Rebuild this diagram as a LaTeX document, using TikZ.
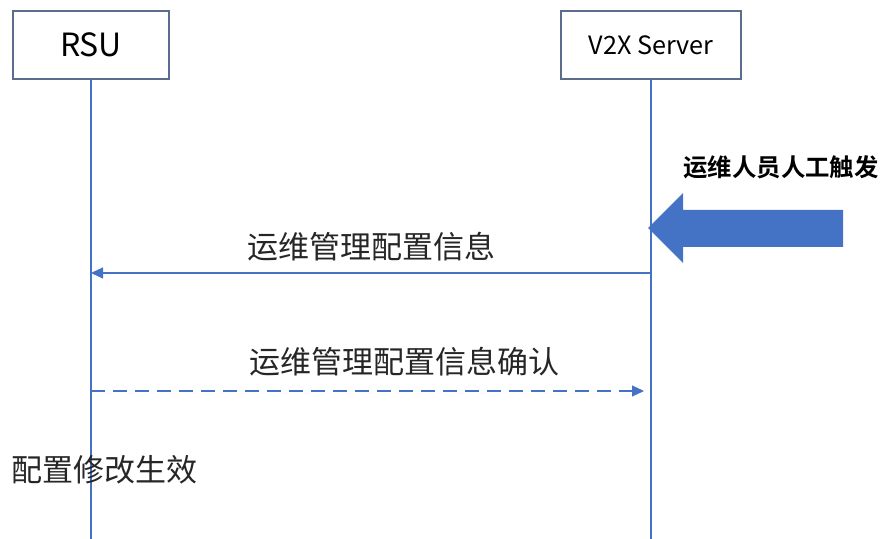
\documentclass[tikz,border=0pt]{standalone}
\usepackage{fontspec}
\setmainfont{Noto Sans CJK SC}[BoldFont={Noto Sans CJK SC Bold}]
\usetikzlibrary{arrows.meta}
\definecolor{msgblue}{RGB}{68,114,196}
\definecolor{boxgray}{RGB}{92,108,140}

\begin{document}
\begin{tikzpicture}[x=0.5pt, y=-0.5pt]
    \tikzstyle{actor} = [draw=boxgray, line width=0.65pt, fill=white, minimum width=78pt, minimum height=34pt, inner sep=0pt]
    \tikzstyle{life} = [draw=msgblue, line width=0.55pt]
    \tikzstyle{msg} = [draw=msgblue, line width=0.55pt, -{Triangle[length=6pt, width=5.5pt]}]
    \tikzstyle{lbl} = [font=\fontsize{15.5pt}{16pt}\selectfont, text=black!85, inner sep=0pt]
    \useasboundingbox (0,0) rectangle (881,539);

    % the two actors and their lifelines
    \node[actor] (rsu) at (91,45) {\fontsize{16pt}{17pt}\selectfont RSU};
    \node[actor, minimum width=90pt] (srv) at (651,45) {\fontsize{12.6pt}{13pt}\selectfont V2X Server};
    \coordinate (rsuend) at (91,539);
    \coordinate (srvend) at (651,539);
    \draw[life] (rsu) -- (rsuend);
    \draw[life] (srv) -- (srvend);

    % points where the messages meet the lifelines
    \coordinate (cfgsrv) at (651,273);
    \coordinate (cfgrsu) at (91,273);
    \coordinate (ackrsu) at (91,391);
    \coordinate (acksrv) at (644,391);

    \draw[msg] (cfgsrv) -- (cfgrsu);
    \node[lbl] (cfg) at (371,247) {运维管理配置信息};
    \draw[msg, dashed, dash pattern=on 7pt off 4pt] (ackrsu) -- (acksrv);
    \node[lbl] (ack) at (404,362) {运维管理配置信息确认};
    \node[lbl, anchor=west] (done) at (11,470) {配置修改生效};

    % manual trigger
    \node[font=\fontsize{12.2pt}{13pt}\selectfont\bfseries, inner sep=0pt] (trig) at (781,167) {运维人员人工触发};
    \fill[msgblue] (648,228) -- (683,193) -- (683,210) -- (843,210)
        -- (843,247) -- (683,247) -- (683,263) -- cycle;
\end{tikzpicture}
\end{document}
